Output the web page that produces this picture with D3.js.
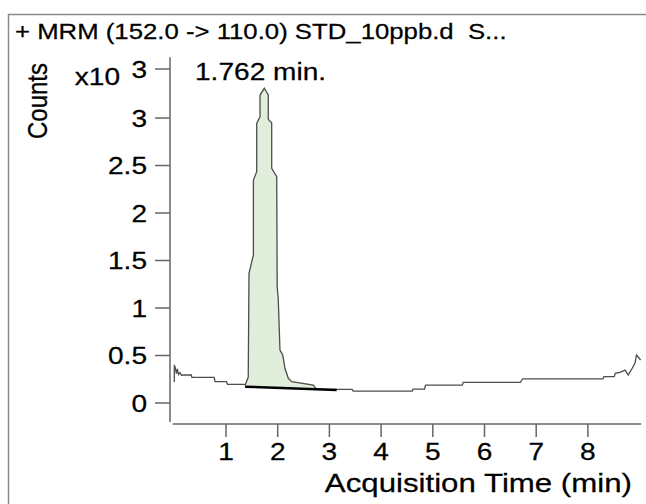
<!DOCTYPE html>
<html>
<head>
<meta charset="utf-8">
<script src="https://cdn.jsdelivr.net/npm/d3@7"></script>
<style>
  body { margin: 0; background: #fff; }
  svg { display: block; font-family: "Liberation Sans", Arial, sans-serif; }
  text { white-space: pre; }
</style>
</head>
<body>
<svg id="chart" width="646" height="504"></svg>
<script>
// chromatogram, time in min, counts in x10^3
const times = [0.00, 0.00, 0.02, 0.04, 0.06, 0.08, 0.11, 0.14, 0.17, 0.33, 0.34, 0.77, 0.79, 1.01, 1.03, 1.35,
  1.37, 1.43, 1.445, 1.53, 1.53, 1.594, 1.594, 1.658, 1.658, 1.741, 1.818, 1.818, 1.884, 1.884, 1.981, 1.99,
  2.01, 2.044, 2.097, 2.141, 2.205, 2.271, 2.689, 2.75, 3.44, 3.46, 4.60, 4.62, 4.84, 4.86, 5.57, 5.59,
  6.69, 6.74, 8.29, 8.31, 8.51, 8.53, 8.62, 8.72, 8.78, 8.83, 8.91, 8.94, 9.02];
const counts = [0.22, 0.40, 0.37, 0.31, 0.36, 0.30, 0.32, 0.29, 0.295, 0.295, 0.27, 0.27, 0.224, 0.224, 0.197, 0.197,
  0.19, 0.27, 1.365, 1.558, 2.347, 2.435, 2.944, 3.014, 3.242, 3.313, 3.242, 2.986, 2.95, 2.47, 2.382, 1.224,
  1.105, 0.558, 0.505, 0.365, 0.26, 0.224, 0.189, 0.144, 0.144, 0.126, 0.126, 0.147, 0.147, 0.189, 0.189, 0.218,
  0.218, 0.253, 0.253, 0.277, 0.277, 0.313, 0.323, 0.347, 0.295, 0.34, 0.418, 0.505, 0.453];

// integration baseline of the peak
const baseTimes = [1.37, 3.14];
const baseCounts = [0.172, 0.137];
const fillRange = [1.37, 2.75];

const yTicks = [0, 0.5, 1, 1.5, 2, 2.5, 3];
const yTop = 3.516;
const xTicks = [1, 2, 3, 4, 5, 6, 7, 8];

const title = "+ MRM (152.0 -> 110.0) STD_10ppb.d  S...";
const peakLabel = "1.762 min.";
const xTitle = "Acquisition Time (min)";
const yTitle = "Counts";

const SX = 1.17; // text is drawn slightly wide in the original
const svg = d3.select("#chart");

const x = d3.scaleLinear().domain([0, 9]).range([174.3, 639.6]);
const y = d3.scaleLinear().domain([0, yTop]).range([403, 69]);

function label(txt, px, py, size, anchor, rot) {
  return svg.append("text")
    .attr("transform", `translate(${px},${py}) scale(${SX},1)` + (rot ? ` rotate(${rot})` : ""))
    .attr("text-anchor", anchor)
    .attr("font-size", size)
    .attr("fill", "#000")
    .attr("stroke", "#000")
    .attr("stroke-width", 0.25)
    .text(txt);
}

// outer frame
svg.append("path")
  .attr("d", "M8.5,520 L8.5,14.5 L660,14.5")
  .attr("fill", "none").attr("stroke", "#8a8a8a").attr("stroke-width", 1.5);

label(title, 15, 39, 22, "start");

// peak fill
const pts = times.map((t, i) => ({t, v: counts[i]}));
const baseAt = t => baseCounts[0] + (baseCounts[1] - baseCounts[0]) * (t - baseTimes[0]) / (baseTimes[1] - baseTimes[0]);
svg.append("path")
  .datum(pts.filter(d => d.t >= fillRange[0] && d.t <= fillRange[1]))
  .attr("fill", "#e1eedb")
  .attr("d", d3.area().x(d => x(d.t)).y0(d => y(baseAt(d.t))).y1(d => y(d.v)));

// chromatogram
svg.append("path")
  .datum(pts)
  .attr("fill", "none")
  .attr("stroke", "#4d4d4d")
  .attr("stroke-width", 1.3)
  .attr("d", d3.line().x(d => x(d.t)).y(d => y(d.v)));

// integration baseline
svg.append("line")
  .attr("x1", x(baseTimes[0])).attr("y1", y(baseCounts[0]))
  .attr("x2", x(baseTimes[1])).attr("y2", y(baseCounts[1]))
  .attr("stroke", "#000").attr("stroke-width", 2.5);

// y axis
const axisCol = "#666";
svg.append("line")
  .attr("x1", 170).attr("x2", 170).attr("y1", y(3.64)).attr("y2", y(-0.2))
  .attr("stroke", axisCol).attr("stroke-width", 1.5);
svg.selectAll(".ytick")
  .data(yTicks.concat([yTop]))
  .enter().append("line")
  .attr("x1", 155).attr("x2", 170)
  .attr("y1", d => y(d)).attr("y2", d => y(d))
  .attr("stroke", axisCol).attr("stroke-width", 1.5);
yTicks.forEach(d => label(String(d), 147, y(d) + 8.5, 24, "end"));
label("3", 147, y(yTop) + 8.5, 24, "end");
label("x10", 120, 85, 24, "end");
label(yTitle, 47, 101, 24, "middle", -90);

// x axis
svg.append("line")
  .attr("x1", x(-0.03)).attr("x2", x(9.03)).attr("y1", 424).attr("y2", 424)
  .attr("stroke", axisCol).attr("stroke-width", 1.5);
svg.selectAll(".xtick")
  .data(xTicks)
  .enter().append("line")
  .attr("x1", d => x(d)).attr("x2", d => x(d))
  .attr("y1", 424).attr("y2", 437)
  .attr("stroke", axisCol).attr("stroke-width", 1.5);
xTicks.forEach(d => label(String(d), x(d), 460, 24, "middle"));
label(xTitle, 632, 492, 26.7, "end");

label(peakLabel, 195, 80, 24, "start");
</script>
</body>
</html>
